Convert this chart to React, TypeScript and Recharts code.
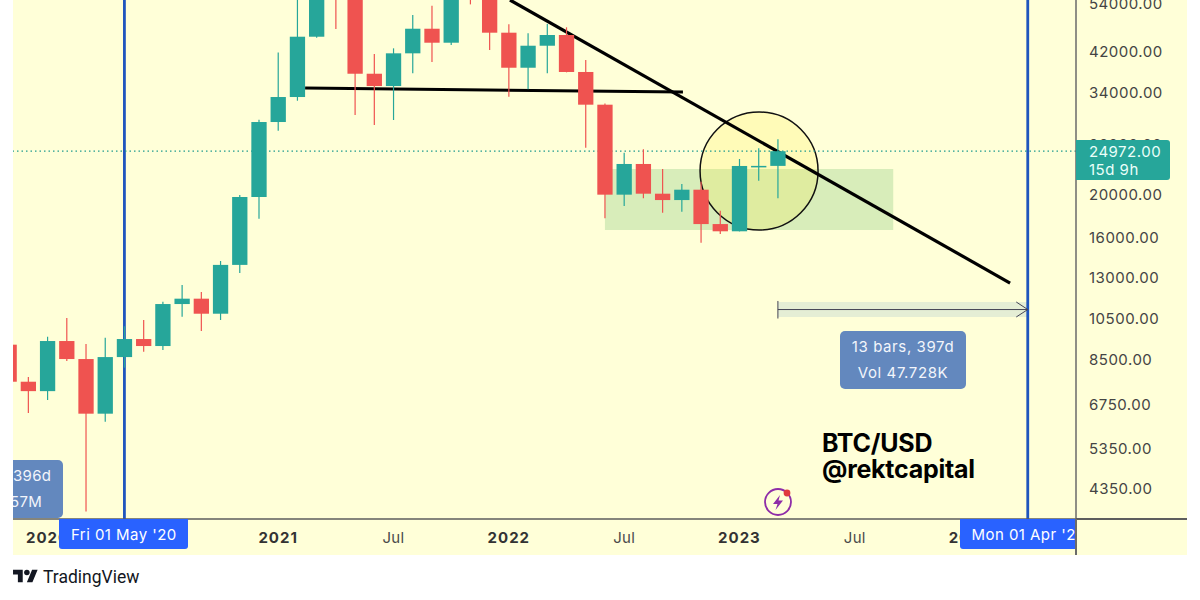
// Monthly BTC/USD candles on a log scale with the trendlines and range drawings on top.

import { Bar, ComposedChart, ReferenceArea, ReferenceDot, ReferenceLine, XAxis, YAxis } from 'recharts';

const MONTHS = [
  'Nov 19', 'Dec 19', 'Jan 20', 'Feb 20', 'Mar 20', 'Apr 20', 'May 20', 'Jun 20', 'Jul 20', 'Aug 20', 'Sep 20', 'Oct 20', 'Nov 20', 'Dec 20',
  'Jan 21', 'Feb 21', 'Mar 21', 'Apr 21', 'May 21', 'Jun 21', 'Jul 21', 'Aug 21', 'Sep 21', 'Oct 21', 'Nov 21', 'Dec 21',
  'Jan 22', 'Feb 22', 'Mar 22', 'Apr 22', 'May 22', 'Jun 22', 'Jul 22', 'Aug 22', 'Sep 22', 'Oct 22', 'Nov 22', 'Dec 22',
  'Jan 23', 'Feb 23', 'Mar 23',
];
const OPENS = [
  9150, 7550, 7190, 9325, 8493, 6396, 8580, 9422, 9086, 11298, 11617, 10745, 13843, 19690,
  29056, 33080, 45235, 58800, 57700, 37330, 35020, 41500, 47150, 43850, 61300, 56900,
  46190, 38510, 43170, 45640, 37670, 31790, 19930, 23370, 20030, 19380, 20450, 17110,
  16480, 23130, 23140,
];
const HIGHS = [
  9500, 7737, 9535, 10510, 9182, 9488, 10070, 10400, 11430, 12474, 12024, 14124, 19900, 29400,
  41700, 58300, 61800, 64900, 59600, 41350, 42590, 50630, 53130, 67000, 69000, 59000,
  48240, 46040, 48300, 47500, 40080, 32000, 24780, 25220, 22770, 21060, 21300, 18340,
  23980, 25350, 26560,
];
const LOWS = [
  6500, 6420, 6866, 8410, 3848, 6136, 8120, 8825, 8900, 10580, 9824, 10400, 13270, 17590,
  27770, 32450, 45000, 47080, 30130, 28600, 29360, 37410, 39670, 43330, 53500, 42220,
  33130, 34430, 37410, 37600, 25430, 17630, 18790, 19560, 18150, 18250, 15530, 16250,
  16470, 21420, 19560,
];
const CLOSES = [
  7550, 7190, 9325, 8493, 6396, 8580, 9422, 9086, 11298, 11617, 10745, 13843, 19690, 29056,
  33080, 45235, 58800, 57700, 37330, 35020, 41500, 47150, 43850, 61300, 56900, 46190,
  38510, 43170, 45640, 37670, 31790, 19930, 23370, 20030, 19380, 20450, 17110, 16480,
  23130, 23140, 24972,
];

const PRICE_TICKS = [54000, 42000, 34000, 26000, 20000, 16000, 13000, 10500, 8500, 6750, 5350, 4350];
const TIME_TICKS = [2, 8, 14, 20, 26, 32, 38, 44, 50];
const TIME_LABELS = ['2020', 'Jul', '2021', 'Jul', '2022', 'Jul', '2023', 'Jul', '2024'];

const LAST_PRICE = 24972;
const RANGE_START = 6; // May 2020
const RANGE_END = 53; // Apr 2024
const MEASURE_START = 40; // Mar 2023

const data = MONTHS.map((month, i) => ({
  i,
  month,
  open: OPENS[i],
  high: HIGHS[i],
  low: LOWS[i],
  close: CLOSES[i],
  range: [LOWS[i], HIGHS[i]],
}));

const UP = '#26a69a';
const DOWN = '#ef5350';
const FONT = 'Inter, Roboto, sans-serif';

function Candle({ x, y, width, height, payload }: any) {
  const { open, close, high, low } = payload;
  const span = Math.log(high / low);
  const toY = (p: number) => y + (height * Math.log(high / p)) / span;
  const color = close >= open ? UP : DOWN;
  const mid = x + width / 2;
  const top = toY(Math.max(open, close));
  const bottom = toY(Math.min(open, close));
  return (
    <g>
      <line x1={mid} x2={mid} y1={y} y2={y + height} stroke={color} strokeWidth={1.2} />
      <rect x={x} y={top} width={width} height={Math.max(bottom - top, 1.5)} fill={color} />
    </g>
  );
}

function TimeTick({ x, y, payload }: any) {
  const label = TIME_LABELS[TIME_TICKS.indexOf(payload.value)];
  const isYear = label !== 'Jul';
  return (
    <text
      x={x}
      y={y}
      textAnchor="middle"
      fontFamily={FONT}
      fontSize={15}
      fontWeight={isYear ? 700 : 400}
      letterSpacing={isYear ? 1 : 0.3}
      fill={isYear ? '#333' : '#4a4a4a'}
    >
      {label}
    </text>
  );
}

const box = (left: number, top: number, width: number, height: number, background: string): React.CSSProperties => ({
  position: 'absolute',
  left,
  top,
  width,
  height,
  background,
});

const label = (left: number, top: number, color: string, extra?: React.CSSProperties): React.CSSProperties => ({
  position: 'absolute',
  left,
  top,
  color,
  fontFamily: FONT,
  fontSize: 15,
  lineHeight: '18px',
  whiteSpace: 'nowrap',
  ...extra,
});

export default function App() {
  return (
    <div style={{ position: 'absolute', left: 0, top: 0, width: 1200, height: 600, background: '#fff', overflow: 'hidden' }}>
      <div style={box(13, 0, 1174, 555, '#ffffd8')} />
      <div style={{ position: 'absolute', left: 0, top: 0 }}>
        <ComposedChart width={1200} height={600} data={data} margin={{ top: 0, right: 13, bottom: 45, left: 13 }}>
          <XAxis
            dataKey="i"
            type="number"
            domain={[0.203, 55.51]}
            allowDataOverflow
            ticks={TIME_TICKS}
            interval={0}
            height={36}
            tickLine={false}
            tickSize={0}
            tickMargin={24}
            tick={<TimeTick />}
            axisLine={{ stroke: '#5d5d5d', strokeWidth: 1.5 }}
          />
          <YAxis
            orientation="right"
            scale="log"
            domain={[3703, 54730]}
            allowDataOverflow
            ticks={PRICE_TICKS}
            interval={0}
            width={111}
            tickLine={false}
            tickSize={0}
            tickMargin={13}
            tickFormatter={(v: number) => v.toFixed(2)}
            tick={{ fontSize: 15, fill: '#444', fontFamily: FONT, letterSpacing: 0.5, dy: 1 }}
            axisLine={{ stroke: '#6a6a6a', strokeWidth: 1.5 }}
          />

          <ReferenceArea x1={31} x2={46} y1={16590} y2={22770} fill="#4caf50" fillOpacity={0.22} stroke="none" zIndex={100} />
          <ReferenceArea x1={MEASURE_START} x2={RANGE_END} y1={10563} y2={11420} fill="#5b93c7" fillOpacity={0.16} stroke="none" zIndex={100} />
          <ReferenceDot x={39.02} y={22530} r={59} fill="#ffeb3b" fillOpacity={0.2} stroke="#111" strokeWidth={1.5} zIndex={110} ifOverflow="visible" />

          <ReferenceLine x={RANGE_START} stroke="#1f55bd" strokeWidth={2.8} zIndex={120} />
          <ReferenceLine x={RANGE_END} stroke="#1f55bd" strokeWidth={2.8} zIndex={120} />
          <ReferenceLine y={LAST_PRICE} stroke="#1f9b8e" strokeWidth={1.2} strokeDasharray="1.5 3" zIndex={120} />

          <ReferenceLine segment={[{ x: 15.4, y: 34660 }, { x: 35.06, y: 33950 }]} stroke="#000" strokeWidth={3} zIndex={130} ifOverflow="hidden" />
          <ReferenceLine segment={[{ x: 26.06, y: 54730 }, { x: 52.08, y: 12600 }]} stroke="#000" strokeWidth={3.2} zIndex={130} ifOverflow="hidden" />

          <ReferenceLine segment={[{ x: MEASURE_START, y: 10980 }, { x: RANGE_END, y: 10980 }]} stroke="#445" strokeWidth={1} zIndex={130} />
          <ReferenceLine segment={[{ x: MEASURE_START, y: 10480 }, { x: MEASURE_START, y: 11480 }]} stroke="#445" strokeWidth={1} zIndex={130} />
          <ReferenceLine segment={[{ x: 52.4, y: 11420 }, { x: RANGE_END, y: 10980 }]} stroke="#445" strokeWidth={1} zIndex={130} />
          <ReferenceLine segment={[{ x: 52.4, y: 10563 }, { x: RANGE_END, y: 10980 }]} stroke="#445" strokeWidth={1} zIndex={130} />

          <Bar dataKey="range" barSize={15.3} shape={<Candle />} isAnimationActive={false} zIndex={300} />
        </ComposedChart>
      </div>

      {/* axis lines running past the plot */}
      <div style={box(1076, 518.3, 111, 1.5, '#5d5d5d')} />

      {/* crosshair date labels */}
      <div style={{ ...box(59, 519, 129, 30, '#2962ff'), borderRadius: '0 0 3px 3px' }} />
      <div style={label(71, 526, '#fff', { letterSpacing: 0.45 })}>Fri 01 May '20</div>
      <div style={{ ...box(960, 519, 116, 30, '#2962ff'), borderRadius: '0 0 0 3px', overflow: 'hidden' }}>
        <div style={label(11.5, 7, '#fff', { letterSpacing: 0.45 })}>Mon 01 Apr '24</div>
      </div>
      <div style={box(1075.2, 519, 1.5, 36, '#6a6a6a')} />

      {/* last price label */}
      <div style={{ ...box(1076, 140, 94, 40, UP), borderRadius: '0 3px 3px 0' }} />
      <div style={label(1089, 143, '#eafff9', { letterSpacing: 0.5 })}>{LAST_PRICE.toFixed(2)}</div>
      <div style={label(1089, 160.5, '#eafff9', { letterSpacing: 0.5 })}>15d 9h</div>

      {/* measure labels */}
      <div style={{ ...box(840, 331, 126, 58, '#6388be'), borderRadius: 5 }} />
      <div style={label(840, 338, '#f2f5fb', { width: 126, textAlign: 'center', letterSpacing: 0.6 })}>13 bars, 397d</div>
      <div style={label(840, 364, '#f2f5fb', { width: 126, textAlign: 'center', letterSpacing: 0.6 })}>Vol 47.728K</div>
      <div style={{ ...box(13, 460, 50, 58, '#6388be'), borderRadius: '0 5px 5px 0', overflow: 'hidden' }}>
        <div style={label(0, 7, '#f2f5fb', { letterSpacing: 0.3 })}>396d</div>
        <div style={label(-3, 33, '#f2f5fb', { letterSpacing: 0.3 })}>57M</div>
      </div>

      <div style={label(822, 430, '#000', { fontSize: 25, fontWeight: 700, lineHeight: '26px', letterSpacing: -0.25 })}>
        BTC/USD
        <br />
        @rektcapital
      </div>

      {/* lightning badge */}
      <svg style={{ position: 'absolute', left: 762, top: 486 }} width={32} height={32} viewBox="0 0 32 32">
        <circle cx={16} cy={16} r={13} fill="none" stroke="#8e2da8" strokeWidth={1.8} />
        <path d="M18 9 L11 18 L15.5 18 L13.5 24 L21 14.5 L16.5 14.5 Z" fill="#8e2da8" />
        <circle cx={25} cy={7} r={3.4} fill="#e0393e" />
      </svg>

      {/* footer logo */}
      <svg style={{ position: 'absolute', left: 13, top: 567 }} width={25} height={19.4} viewBox="0 0 36 28">
        <path d="M14 22H7V11H0V4h14v18zM28 22h-8l7.5-18h8L28 22z" fill="#131722" />
        <circle cx={20} cy={8} r={4} fill="#131722" />
      </svg>
      <div style={label(43, 567, '#131722', { fontSize: 17.5, lineHeight: '20px', fontFamily: 'Roboto, sans-serif' })}>TradingView</div>
    </div>
  );
}
